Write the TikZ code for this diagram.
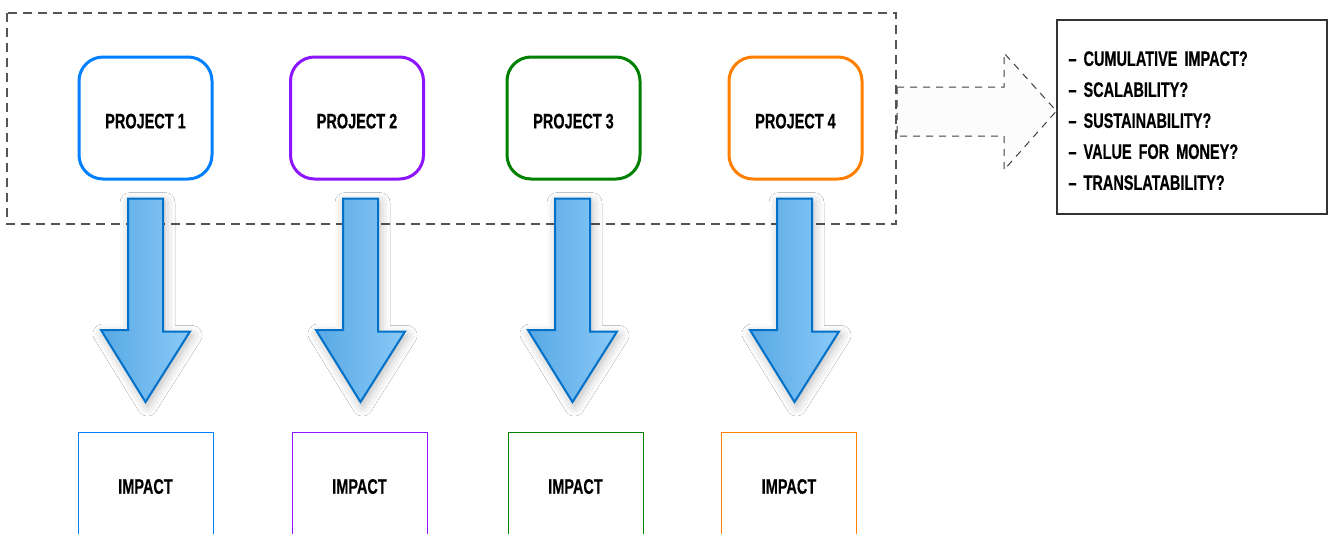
\documentclass[tikz,border=0pt]{standalone}
\usepackage{fontspec}
\setmainfont[FakeStretch=0.69, FakeBold=0.4]{Liberation Sans}
\usetikzlibrary{shadows.blur}

\definecolor{projblue}{RGB}{0,128,255}
\definecolor{projpurple}{RGB}{140,20,255}
\definecolor{projgreen}{RGB}{0,128,0}
\definecolor{projorange}{RGB}{255,128,0}
\definecolor{arrowedge}{RGB}{0,112,200}
\definecolor{arrowdark}{RGB}{88,168,228}
\definecolor{arrowlight}{RGB}{138,202,248}
\definecolor{framegray}{RGB}{85,85,85}

\tikzset{
  label font/.style={font=\fontsize{21}{31}\selectfont\bfseries},
  project/.style={draw=#1, line width=3pt, rounded corners=24pt,
    minimum width=133pt, minimum height=122pt, text height=21pt, label font},
  impact/.style={draw=#1, line width=1pt, anchor=north,
    minimum width=135pt, minimum height=108pt, label font},
  bigarrow/.style={draw=arrowedge, line width=2pt, line join=miter,
    left color=arrowdark, right color=arrowlight,
    blur shadow={shadow xshift=2pt, shadow yshift=-4pt,
      shadow blur radius=10pt, shadow opacity=28}},
  outline/.style={draw=framegray, line width=1.2pt, dash pattern=on 9pt off 6pt},
  hollowarrow/.style={draw=black!75, line width=1pt, dash pattern=on 7pt off 6pt,
    fill=black!1}
}

\begin{document}
\begin{tikzpicture}[x=1pt, y=-1pt]
  \clip (0,0) rectangle (1332,533);
  \fill[white] (0,0) rectangle (1332,533);

  % the four projects and what each one leads to
  \node[project=projblue]   (p1) at (145.5,118) {PROJECT 1};
  \node[project=projpurple] (p2) at (357,118)   {PROJECT 2};
  \node[project=projgreen]  (p3) at (573.5,118) {PROJECT 3};
  \node[project=projorange] (p4) at (795.5,118) {PROJECT 4};

  \node[impact=projblue]   (m1) at (145.5,432) {IMPACT};
  \node[impact=projpurple] (m2) at (359.5,432) {IMPACT};
  \node[impact=projgreen]  (m3) at (575.5,432) {IMPACT};
  \node[impact=projorange] (m4) at (789,432)   {IMPACT};

  % dashed frame round the projects
  \coordinate (fnw) at (7,13);
  \coordinate (fse) at (896,224);
  \draw[outline] (fnw) rectangle (fse);

  % block arrows, project -> impact
  \foreach \i/\dx in {1/0, 2/3.5, 3/-1, 4/-1}{
    \path (p\i.south) ++(\dx,18) coordinate (a\i);
    \path (a\i |- m\i.north) ++(0,-30) coordinate (b\i);
    \draw[bigarrow] (a\i) ++(-17.5,0) -- ++(35,0) -- ++(0,133) -- ++(27,0)
      -- (b\i) -- ++(-44.5,-72) -- ++(27,0) -- cycle;
  }

  % open questions
  \node[draw=black!80, line width=1.2pt, align=left, text width=247pt,
    inner xsep=11.5pt, minimum height=194pt, label font] (issues) at (1192,117)
    {\rule{0pt}{22pt}-- CUMULATIVE IMPACT?\\
     -- SCALABILITY?\\
     -- SUSTAINABILITY?\\
     -- VALUE FOR MONEY?\\
     -- TRANSLATABILITY?};

  % hollow dashed arrow from the frame to the questions
  \coordinate (tip) at (issues.west |- 0,111);
  \draw[hollowarrow] (897,87) -- (1004,87) -- (1004,53) -- (tip)
    -- (1004,170) -- (1004,136) -- (897,136) -- cycle;
\end{tikzpicture}
\end{document}
